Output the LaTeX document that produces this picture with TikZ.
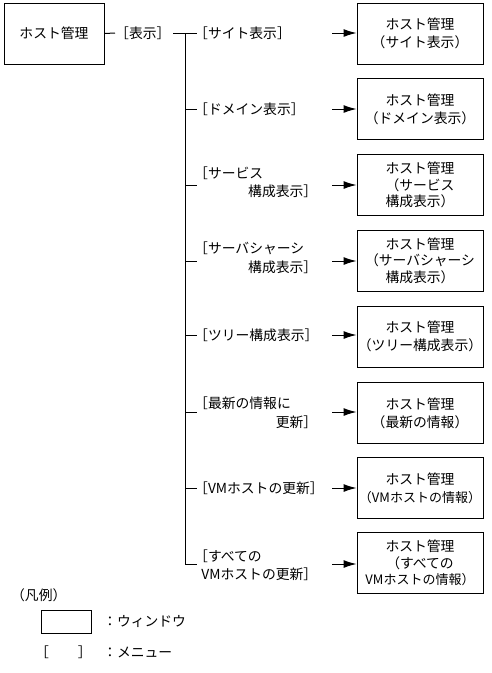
\documentclass[tikz,border=0pt]{standalone}
\usepackage{fontspec}
\setmainfont{Noto Sans CJK JP}
\usetikzlibrary{arrows.meta}
\begin{document}
\begin{tikzpicture}[x=1pt,y=-1pt,
  every node/.style={font=\fontsize{13.8}{18}\selectfont},
  win/.style={draw,line width=1pt,minimum width=126pt,minimum height=61pt,align=center,inner sep=0pt},
  menu/.style={anchor=west,inner sep=0pt,align=left},
  menu2/.style={anchor=west,inner sep=0pt,align=left,text width=123pt,font=\fontsize{13.8}{18.5}\selectfont},
  ln/.style={line width=1pt},
  arr/.style={line width=1pt,-{Latex[length=13pt,width=8pt]}}]
\useasboundingbox (0,0) rectangle (491,673);
% main window
\node[win,minimum width=100pt] (main) at (54,33.5) {ホスト管理};
\node[menu] (hyoji) at (115,33) {［表示］};
\draw[ln] (main.east) -- (hyoji.west);
\coordinate (j) at (173,33);
\coordinate (b1) at (185,33);
\coordinate (b8) at (185,564);
\draw[ln] (j) -- (b1);
\draw[ln] (b1) -- (b8);
% labels
\node[menu] (l1) at (194,33) {［サイト表示］};
\node[menu] (l2) at (194,109) {［ドメイン表示］};
\node[menu2] (l3) at (194,182.5) {［サービス\\\hspace*{\fill}構成表示］};
\node[menu2] (l4) at (194,258) {［サーバシャーシ\\\hspace*{\fill}構成表示］};
\node[menu] (l5) at (194,335) {［ツリー構成表示］};
\node[menu2] (l6) at (194,412.5) {［最新の情報に\\\hspace*{\fill}更新］};
\node[menu] (l7) at (194,488) {［VMホストの更新］};
\node[menu2] (l8) at (194,565) {［すべての\\\hspace*{\fill}VMホストの更新］};
\foreach \i/\y in {2/109,3/185,4/261,5/335,6/412,7/488,8/564}{
  \coordinate (b\i) at (185,\y);
  \coordinate (t\i) at (197,\y);
  \draw[ln] (b\i) -- (t\i);
}
\coordinate (t1) at (197,33);
\draw[ln] (b1) -- (t1);
% windows
\node[win] (w1) at (420,33.5) {ホスト管理\\（サイト表示）};
\node[win] (w2) at (420,109) {ホスト管理\\（ドメイン表示）};
\node[win,font=\fontsize{13.8}{16.5}\selectfont] (w3) at (420,185) {ホスト管理\\（サービス\\構成表示）};
\node[win,font=\fontsize{13.8}{16.5}\selectfont] (w4) at (420,260.5) {ホスト管理\\（サーバシャーシ\\構成表示）};
\node[win] (w5) at (420,336.5) {ホスト管理\\（ツリー構成表示）};
\node[win] (w6) at (420,413) {ホスト管理\\（最新の情報）};
\node[win] (w7) at (420,488) {ホスト管理\\{\fontsize{13}{18}\selectfont（VMホストの情報）}};
\node[win,font=\fontsize{13.8}{16.5}\selectfont] (w8) at (420,563) {ホスト管理\\（すべての\\{\fontsize{13}{16.5}\selectfont VMホストの情報）}};
\foreach \i/\y in {1/33,2/109,3/185,4/261,5/335,6/412,7/488,8/564}{
  \coordinate (a\i) at (332,\y);
  \draw[arr] (a\i) -- (w\i.west |- a\i);
}
% legend
\node[anchor=west,inner sep=0pt] (hanrei) at (11,595) {（凡例）};
\node[draw,line width=1pt,minimum width=50pt,minimum height=23pt,inner sep=0pt] (lgbox) at (66,621.5) {};
\node[anchor=west,inner sep=0pt] (lgwin) at (103,622) {：ウィンドウ};
\node[anchor=west,inner sep=0pt] (lgbr) at (35,652) {［\hspace{29pt}］};
\node[anchor=west,inner sep=0pt] (lgmenu) at (103,652) {：メニュー};
\end{tikzpicture}
\end{document}
